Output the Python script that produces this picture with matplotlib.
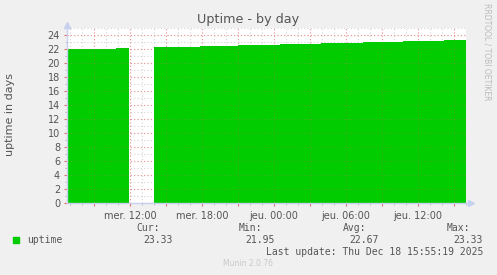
import numpy as np
import matplotlib
matplotlib.use('Agg')
import matplotlib.pyplot as plt
from matplotlib.ticker import MultipleLocator, FuncFormatter

# Heures depuis mer. 00:00, début de chaque palier
t_start = [6.75, 7.42, 10.83, 11.92, 14.0, 17.83, 21.0, 24.5, 27.92, 31.42, 34.75, 38.17]
t_end = 40.0
uptime = [21.95, 22.05, 22.19, np.nan, 22.31, 22.45, 22.58, 22.72, 22.86, 23.00, 23.14, 23.33]

tick_hours = [12, 18, 24, 30, 36]
tick_labels = ['mer. 12:00', 'mer. 18:00', 'jeu. 00:00', 'jeu. 06:00', 'jeu. 12:00']

cur, vmin, avg, vmax = 23.33, 21.95, 22.67, 23.33

W, H = 497, 275
fig = plt.figure(figsize=(W / 100, H / 100), dpi=100)
fig.patch.set_facecolor('#f0f0f0')
ax = fig.add_axes([67 / W, 1 - 203 / H, 399 / W, 175 / H])
ax.set_facecolor('white')

edges = np.array(t_start + [t_end])
widths = np.diff(edges)
vals = np.array(uptime)
ok = ~np.isnan(vals)
ax.bar(edges[:-1][ok], vals[ok], width=widths[ok], align='edge', color='#00cc00',
       lw=0, zorder=2)

ax.set_xlim(t_start[0], t_end)
ax.set_ylim(0, 25)

# grille
ax.xaxis.set_major_locator(MultipleLocator(3))
ax.xaxis.set_minor_locator(MultipleLocator(1))
ax.yaxis.set_major_locator(MultipleLocator(2))
ax.yaxis.set_minor_locator(MultipleLocator(1))
ax.grid(which='minor', color='#d4d4d4', ls=(0, (1, 2)), lw=0.8, zorder=1)
ax.grid(which='major', color='#eaa8a8', ls=(0, (1, 2)), lw=0.8, zorder=1)
# grille légère par-dessus la surface
for v in np.arange(2, 25, 2):
    ax.axhline(v, color='#e07070', ls=(0, (1, 2)), lw=0.8, alpha=0.3, zorder=3)
for h in np.arange(9, 40, 3):
    ax.axvline(h, color='#e07070', ls=(0, (1, 2)), lw=0.8, alpha=0.3, zorder=3)

lab = dict(zip(tick_hours, tick_labels))
ax.xaxis.set_major_formatter(FuncFormatter(lambda v, p: lab.get(int(round(v)), '')))
ax.yaxis.set_major_formatter(FuncFormatter(lambda v, p: '%d' % v))

ax.tick_params(which='major', length=2, width=0.8, color='#e07070', labelsize=7,
               labelcolor='#555555', pad=4)
ax.tick_params(which='minor', length=1.5, width=0.6, color='#b0b0c0')
ax.tick_params(axis='y', direction='out', pad=3)

for s in ['top', 'right']:
    ax.spines[s].set_visible(False)
for s in ['left', 'bottom']:
    ax.spines[s].set_color('#c8d0f0')
    ax.spines[s].set_linewidth(1)
    ax.spines[s].set_zorder(4)

# flèches des axes
ax.plot([0], [1.02], marker='^', ms=5, color='#c8d0f0', transform=ax.transAxes, clip_on=False)
ax.plot([1.012], [0], marker='>', ms=5, color='#c8d0f0', transform=ax.transAxes, clip_on=False)
ax.plot([1.0, 1.012], [0, 0], color='#c8d0f0', lw=1, transform=ax.transAxes, clip_on=False)

fig.text(248 / W, 1 - 19 / H, 'Uptime - by day', ha='center', va='center',
         fontsize=9.2, color='#555555')
fig.text(10 / W, 1 - 115 / H, 'uptime in days', rotation=90, ha='center', va='center',
         fontsize=8, color='#555555')
fig.text(487 / W, 1 - 52 / H, 'RRDTOOL / TOBI OETIKER', rotation=270, ha='center',
         va='center', fontsize=5.5, color='#bbbbbb')

mono = dict(family='DejaVu Sans Mono', fontsize=7, color='#555555', va='center')
fig.patches.append(plt.Rectangle((13 / W, 1 - 243 / H), 6 / W, 6 / H, color='#00cc00',
                                 transform=fig.transFigure, figure=fig))
fig.text(27 / W, 1 - 240 / H, 'uptime', ha='left', **mono)
for xr, head, val in [(160, 'Cur:', cur), (262, 'Min:', vmin), (366, 'Avg:', avg),
                      (470, 'Max:', vmax)]:
    fig.text(xr / W, 1 - 228 / H, head, ha='right', **mono)
    fig.text((xr + 13) / W, 1 - 240 / H, '%.2f' % val, ha='right', **mono)
fig.text(483 / W, 1 - 252 / H, 'Last update: Thu Dec 18 15:55:19 2025', ha='right', **mono)
fig.text(248 / W, 1 - 264 / H, 'Munin 2.0.76', ha='center', va='center', fontsize=5.5,
         color='#c8c8c8')

fig.savefig('out.png', dpi=100, facecolor=fig.get_facecolor())
